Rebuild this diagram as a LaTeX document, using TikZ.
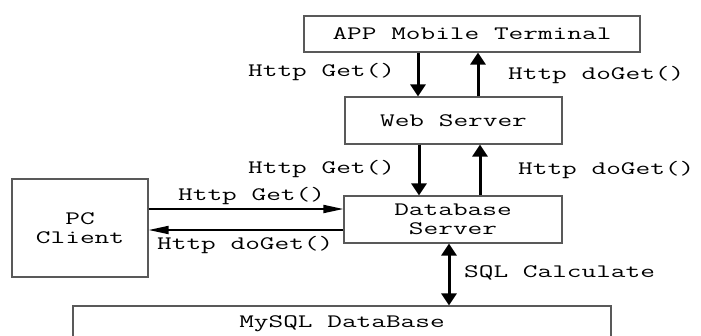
\documentclass[tikz,border=0pt]{standalone}
\usepackage{fontspec}
\setmonofont{Latin Modern Mono}[FakeStretch=1.5]
\usetikzlibrary{arrows.meta}
\tikzset{
  box/.style={draw=black!65, line width=1.2pt, inner sep=0pt, align=center, font=\ttfamily\fontsize{19}{18.5}\selectfont},
  lbl/.style={inner sep=0pt, anchor=west, font=\ttfamily\fontsize{19}{18.5}\selectfont},
  varr/.style={line width=3pt, -{Triangle[length=12pt,width=15pt]}},
  dvarr/.style={line width=3pt, {Triangle[length=12pt,width=15pt]}-{Triangle[length=12pt,width=15pt]}},
  harr/.style={line width=1.8pt, -{Triangle[length=20pt,width=8pt]}}
}
\begin{document}
\begin{tikzpicture}[x=1pt,y=-1pt]
\path[use as bounding box, clip] (0,0) rectangle (701,335);
\node[box, minimum width=336pt, minimum height=36pt] (app) at (472,34) {APP Mobile Terminal};
\node[box, minimum width=217pt, minimum height=47pt] (web) at (453.5,120.5) {Web Server};
\node[box, minimum width=136pt, minimum height=98pt] (pc) at (80,228) {PC\\Client};
\node[box, minimum width=218pt, minimum height=47pt] (db) at (453,219.5) {Database\\Server};
\node[box, minimum width=538pt, minimum height=36pt] (my) at (342,324) {MySQL DataBase};

\draw[varr] (app.south -| 418,0) -- (web.north -| 418,0);
\draw[varr] (web.north -| 478,0) -- (app.south -| 478,0);
\draw[varr] (web.south -| 419,0) -- (db.north -| 419,0);
\draw[varr] (db.north -| 480,0) -- (web.south -| 480,0);
\draw[harr] (pc.east |- 0,209) -- (db.west |- 0,209);
\draw[harr] (db.west |- 0,230) -- (pc.east |- 0,230);
\draw[dvarr] (db.south -| 449,0) -- (my.north -| 449,0);

\node[lbl] (l1) at (248,72) {Http Get()};
\node[lbl] (l2) at (508,75) {Http doGet()};
\node[lbl] (l3) at (248,169) {Http Get()};
\node[lbl] (l4) at (518,170) {Http doGet()};
\node[lbl] (l5) at (178,196) {Http Get()};
\node[lbl] (l6) at (157,245) {Http doGet()};
\node[lbl] (l7) at (464,273) {SQL Calculate};
\end{tikzpicture}
\end{document}
